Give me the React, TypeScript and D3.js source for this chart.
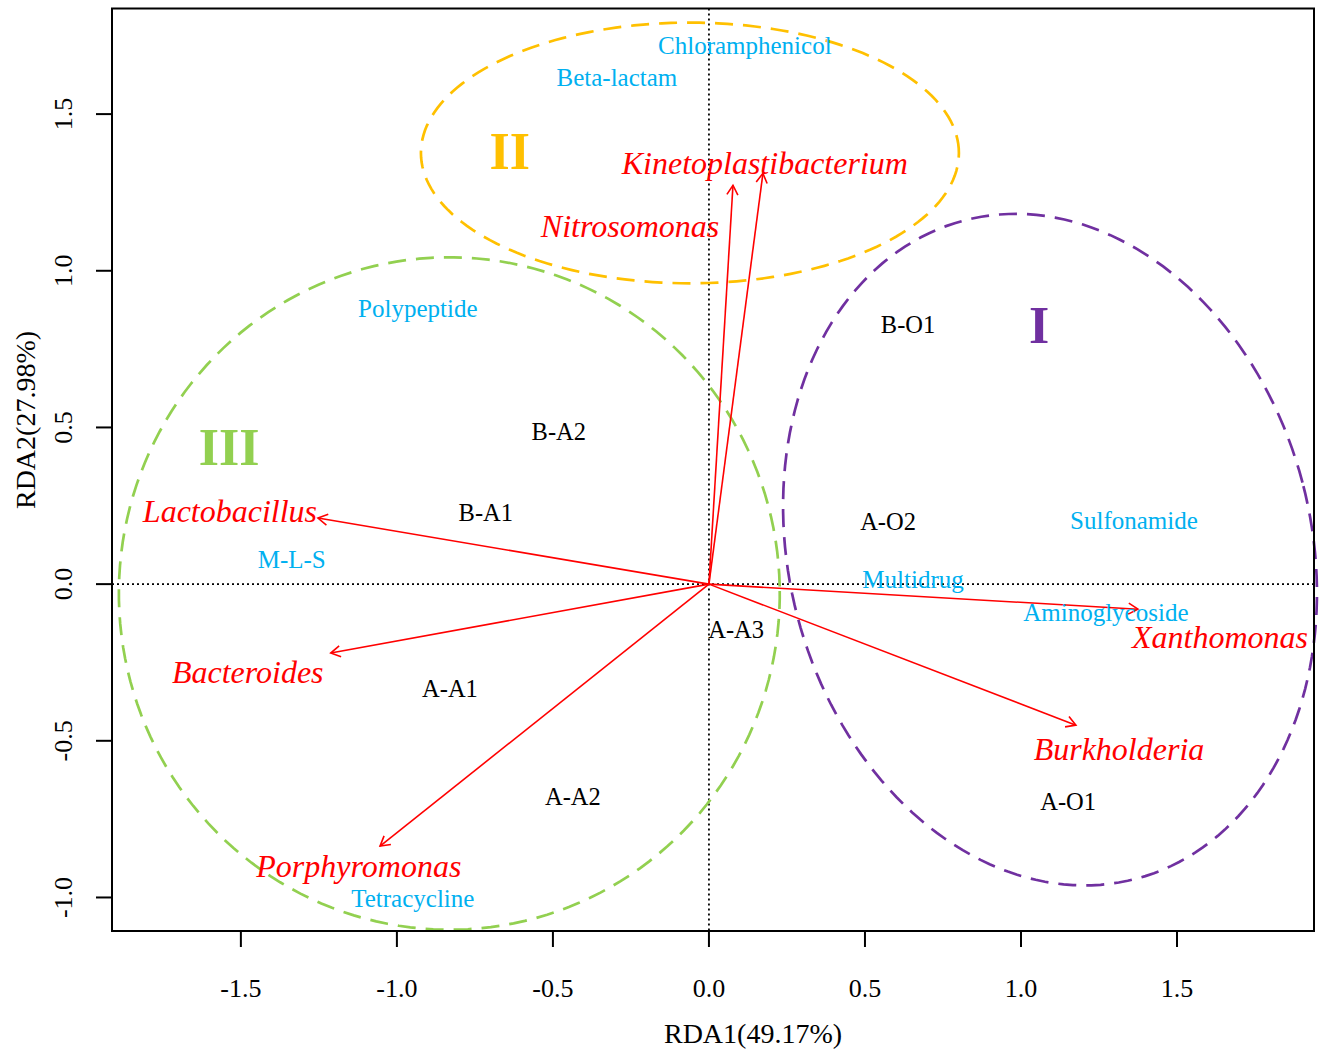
import React from "react";
import * as d3 from "d3";

// ---- data ----
const xTicks = [-1.5, -1.0, -0.5, 0.0, 0.5, 1.0, 1.5];
const yTicks = [-1.0, -0.5, 0.0, 0.5, 1.0, 1.5];

const speciesNames = ["Kinetoplastibacterium", "Nitrosomonas", "Lactobacillus", "Bacteroides", "Porphyromonas", "Xanthomonas", "Burkholderia"];
const speciesArrowX = [0.173, 0.077, -1.253, -1.212, -1.054, 1.375, 1.176];
const speciesArrowY = [1.311, 1.273, 0.211, -0.22, -0.836, -0.08, -0.45];
const speciesLabelX = [0.179, -0.253, -1.535, -1.478, -1.122, 1.638, 1.314];
const speciesLabelY = [1.346, 1.142, 0.233, -0.281, -0.9, -0.169, -0.526];

const sampleNames = ["B-O1", "B-A2", "B-A1", "A-O2", "A-A3", "A-A1", "A-A2", "A-O1"];
const sampleX = [0.638, -0.481, -0.715, 0.574, 0.087, -0.83, -0.436, 1.151];
const sampleY = [0.829, 0.488, 0.23, 0.201, -0.144, -0.332, -0.676, -0.695];

const argNames = ["Chloramphenicol", "Beta-lactam", "Polypeptide", "M-L-S", "Sulfonamide", "Multidrug", "Aminoglycoside", "Tetracycline"];
const argX = [0.115, -0.295, -0.933, -1.337, 1.362, 0.654, 1.272, -0.949];
const argY = [1.719, 1.617, 0.88, 0.08, 0.204, 0.016, -0.089, -1.002];

const groupNames = ["I", "II", "III"];
const groupColors = ["#7030A0", "#FFC000", "#92D050"];
const groupCx = [1.093, -0.061, -0.832];
const groupCy = [0.11, 1.376, -0.03];
const groupRx = [0.837, 0.862, 1.059];
const groupRy = [1.086, 0.416, 1.073];
const groupAngle = [14.8, 0, 1.2];
const groupLabelX = [1.058, -0.638, -1.538];
const groupLabelY = [0.828, 1.383, 0.438];

const W = 1319;
const H = 1049;
const FONT = "'Liberation Serif', 'Times New Roman', serif";

export default function App() {
  const left = 112, right = 1314, top = 8.5, bottom = 931;
  const x = d3.scaleLinear().domain([-1.913, 1.939]).range([left, right]);
  const y = d3.scaleLinear().domain([-1.107, 1.837]).range([bottom, top]);

  const line = d3.line<[number, number]>().x((d) => x(d[0])).y((d) => y(d[1]));

  const ellipsePath = (i: number) => {
    const th = (groupAngle[i] * Math.PI) / 180;
    const pts: [number, number][] = d3.range(0, 361, 2).map((deg) => {
      const t = (deg * Math.PI) / 180;
      const ex = groupRx[i] * Math.cos(t);
      const ey = groupRy[i] * Math.sin(t);
      return [groupCx[i] + ex * Math.cos(th) - ey * Math.sin(th), groupCy[i] + ex * Math.sin(th) + ey * Math.cos(th)];
    });
    return line(pts) + "Z";
  };

  const arrowHead = (x0: number, y0: number, x1: number, y1: number) => {
    const ang = Math.atan2(y1 - y0, x1 - x0);
    const len = 11;
    const a = Math.PI / 6;
    const p1 = [x1 - len * Math.cos(ang - a), y1 - len * Math.sin(ang - a)];
    const p2 = [x1 - len * Math.cos(ang + a), y1 - len * Math.sin(ang + a)];
    return `M${p1[0]},${p1[1]}L${x1},${y1}L${p2[0]},${p2[1]}`;
  };

  const ox = x(0), oy = y(0);

  return (
    <svg width={W} height={H} style={{ position: "absolute", left: 0, top: 0, background: "#fff" }} fontFamily={FONT}>
      <rect x={0} y={0} width={W} height={H} fill="#fff" />
      {/* reference dotted lines */}
      <line x1={left} x2={right} y1={oy} y2={oy} stroke="#000" strokeWidth={1.8} strokeDasharray="2 3" />
      <line x1={ox} x2={ox} y1={top} y2={bottom} stroke="#000" strokeWidth={1.8} strokeDasharray="2 3" />

      {/* ellipses */}
      {groupNames.map((g, i) => (
        <path key={"e" + g} d={ellipsePath(i)} fill="none" stroke={groupColors[i]} strokeWidth={2.7} strokeDasharray="18 10" />
      ))}

      {/* arrows */}
      {speciesNames.map((s, i) => {
        const x1 = x(speciesArrowX[i]), y1 = y(speciesArrowY[i]);
        return (
          <g key={"a" + s} stroke="#FF0000" strokeWidth={1.6} fill="none">
            <line x1={ox} y1={oy} x2={x1} y2={y1} />
            <path d={arrowHead(ox, oy, x1, y1)} />
          </g>
        );
      })}

      {/* blue ARG labels */}
      {argNames.map((n, i) => (
        <text key={"g" + n} x={x(argX[i])} y={y(argY[i])} dy="0.35em" textAnchor="middle" fontSize={25} fill="#00B0F0">
          {n}
        </text>
      ))}

      {/* sample labels */}
      {sampleNames.map((n, i) => (
        <text key={"s" + n} x={x(sampleX[i])} y={y(sampleY[i])} dy="0.35em" textAnchor="middle" fontSize={24.5} fill="#000">
          {n}
        </text>
      ))}

      {/* species labels */}
      {speciesNames.map((n, i) => (
        <text key={"l" + n} x={x(speciesLabelX[i])} y={y(speciesLabelY[i])} dy="0.35em" textAnchor="middle" fontSize={32} fontStyle="italic" fill="#FF0000">
          {n}
        </text>
      ))}

      {/* group labels */}
      {groupNames.map((g, i) => (
        <text key={"n" + g} x={x(groupLabelX[i])} y={y(groupLabelY[i])} dy="0.35em" textAnchor="middle" fontSize={52} fontWeight="bold" fill={groupColors[i]}>
          {g}
        </text>
      ))}

      {/* box */}
      <rect x={left} y={top} width={right - left} height={bottom - top} fill="none" stroke="#000" strokeWidth={2} />

      {/* x axis */}
      {xTicks.map((t) => (
        <g key={"xt" + t}>
          <line x1={x(t)} x2={x(t)} y1={bottom} y2={bottom + 16} stroke="#000" strokeWidth={2} />
          <text x={x(t)} y={988} dy="0.35em" textAnchor="middle" fontSize={26} fill="#000">
            {t.toFixed(1)}
          </text>
        </g>
      ))}
      {/* y axis */}
      {yTicks.map((t) => (
        <g key={"yt" + t}>
          <line x1={left} x2={left - 16} y1={y(t)} y2={y(t)} stroke="#000" strokeWidth={2} />
          <text transform={`translate(63,${y(t)}) rotate(-90)`} dy="0.35em" textAnchor="middle" fontSize={26} fill="#000">
            {t.toFixed(1)}
          </text>
        </g>
      ))}

      <text x={753} y={1033} dy="0.35em" textAnchor="middle" fontSize={28} fill="#000">
        RDA1(49.17%)
      </text>
      <text transform="translate(25,420) rotate(-90)" dy="0.35em" textAnchor="middle" fontSize={28} fill="#000">
        RDA2(27.98%)
      </text>
    </svg>
  );
}
